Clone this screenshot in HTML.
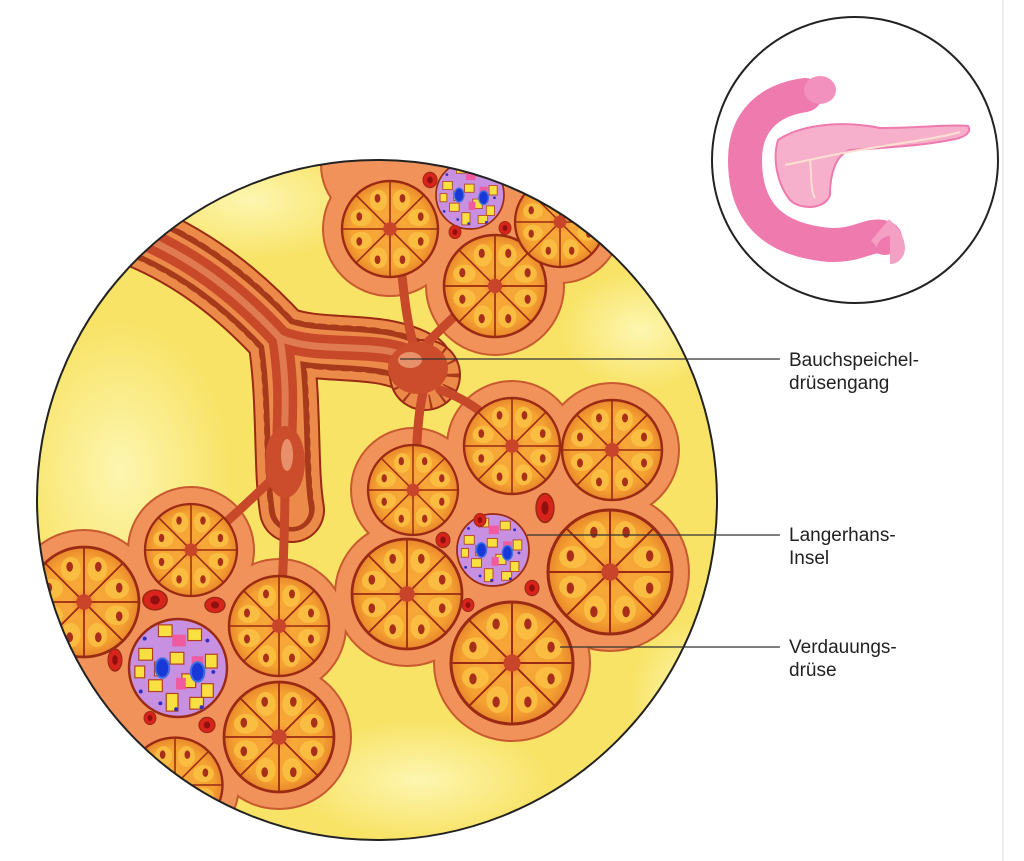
<!DOCTYPE html>
<html><head><meta charset="utf-8"><style>
html,body{margin:0;padding:0;background:#fff;width:1024px;height:861px;overflow:hidden}
svg{display:block}
text{font-family:"Liberation Sans","DejaVu Sans",sans-serif;font-size:19px;fill:#222}
</style></head><body>
<svg width="1024" height="861" viewBox="0 0 1024 861" xmlns="http://www.w3.org/2000/svg">
<defs>
<clipPath id="big"><circle cx="377" cy="500" r="340"/></clipPath>
<radialGradient id="acg" cx="50%" cy="50%" r="50%">
<stop offset="0" stop-color="#f07a30"/><stop offset="0.25" stop-color="#f6a838"/><stop offset="0.8" stop-color="#f5a232"/><stop offset="1" stop-color="#e8862c"/></radialGradient>
<radialGradient id="yl" cx="50%" cy="50%" r="50%"><stop offset="0" stop-color="#fdf6b0"/><stop offset="1" stop-color="#fdf6b0" stop-opacity="0"/></radialGradient>
<g id="ac">
<circle r="50" fill="url(#acg)" stroke="#9a2a14" stroke-width="2.5"/>
<g fill="#fbc445" opacity="0.8">
<ellipse cx="30" cy="12" rx="11" ry="9"/><ellipse cx="12" cy="30" rx="9" ry="11"/><ellipse cx="-12" cy="30" rx="9" ry="11"/><ellipse cx="-30" cy="12" rx="11" ry="9"/>
<ellipse cx="-30" cy="-12" rx="11" ry="9"/><ellipse cx="-12" cy="-30" rx="9" ry="11"/><ellipse cx="12" cy="-30" rx="9" ry="11"/><ellipse cx="30" cy="-12" rx="11" ry="9"/></g>
<g stroke="#9a2a14" stroke-width="1.6">
<line x1="6" y1="0" x2="50" y2="0"/><line x1="-6" y1="0" x2="-50" y2="0"/><line x1="0" y1="6" x2="0" y2="50"/><line x1="0" y1="-6" x2="0" y2="-50"/>
<line x1="4" y1="4" x2="35" y2="35"/><line x1="-4" y1="4" x2="-35" y2="35"/><line x1="4" y1="-4" x2="35" y2="-35"/><line x1="-4" y1="-4" x2="-35" y2="-35"/></g>
<g fill="#a8301a">
<ellipse cx="32" cy="13" rx="3" ry="4.5"/><ellipse cx="13" cy="32" rx="3" ry="4.5"/><ellipse cx="-13" cy="32" rx="3" ry="4.5"/><ellipse cx="-32" cy="13" rx="3" ry="4.5"/>
<ellipse cx="-32" cy="-13" rx="3" ry="4.5"/><ellipse cx="-13" cy="-32" rx="3" ry="4.5"/><ellipse cx="13" cy="-32" rx="3" ry="4.5"/><ellipse cx="32" cy="-13" rx="3" ry="4.5"/></g>
<circle r="7" fill="#c8452a"/>
</g>
<g id="isl">
<circle r="50" fill="#c890e0" stroke="#9a2a14" stroke-width="2.5"/>
<g fill="#f8e040" stroke="#b04020" stroke-width="1.2">
<rect x="-40" y="-20" width="14" height="12"/><rect x="-20" y="-44" width="14" height="12"/><rect x="10" y="-40" width="14" height="12"/><rect x="28" y="-14" width="12" height="14"/>
<rect x="-8" y="-16" width="14" height="12"/><rect x="-30" y="12" width="14" height="12"/><rect x="4" y="6" width="14" height="14"/><rect x="24" y="16" width="12" height="14"/>
<rect x="-12" y="26" width="12" height="18"/><rect x="-44" y="-2" width="10" height="12"/><rect x="12" y="30" width="14" height="12"/><rect x="-24" y="-6" width="12" height="14"/></g>
<g fill="#f05aa0"><rect x="-6" y="-34" width="14" height="12"/><rect x="14" y="-12" width="12" height="12"/><rect x="-2" y="10" width="10" height="12"/></g>
<g fill="#3030c0"><circle cx="-34" cy="-30" r="2"/><circle cx="30" cy="-28" r="2"/><circle cx="-38" cy="24" r="2"/><circle cx="36" cy="4" r="2"/><circle cx="-2" cy="42" r="2"/><circle cx="-18" cy="36" r="2"/><circle cx="24" cy="40" r="2"/></g>
<ellipse cx="-16" cy="0" rx="7" ry="10" fill="#1838d8" stroke="#4070e0" stroke-width="2"/>
<ellipse cx="20" cy="4" rx="7" ry="10" fill="#1838d8" stroke="#4070e0" stroke-width="2"/>
</g>
<g id="rbc"><ellipse rx="10" ry="11" fill="#d8241a" stroke="#9a2a14" stroke-width="1.5"/><ellipse rx="4" ry="5" fill="#901010"/></g>
</defs>

<line x1="1003" y1="0" x2="1003" y2="861" stroke="#eee" stroke-width="2"/>

<circle cx="377" cy="500" r="340" fill="#f8e366"/>
<g clip-path="url(#big)">
<ellipse cx="120" cy="470" rx="110" ry="150" fill="url(#yl)"/>
<ellipse cx="250" cy="200" rx="120" ry="60" fill="url(#yl)"/>
<ellipse cx="640" cy="330" rx="80" ry="60" fill="url(#yl)"/>
<ellipse cx="420" cy="780" rx="130" ry="60" fill="url(#yl)"/>
<ellipse cx="690" cy="700" rx="60" ry="80" fill="url(#yl)"/>

<!-- lobule outlines (circles) -->
<g fill="#c85a30">
<circle cx="390" cy="229" r="68"/><circle cx="495" cy="286" r="70"/><circle cx="560" cy="222" r="62"/><circle cx="470" cy="195" r="50"/><circle cx="470" cy="160" r="60"/><circle cx="380" cy="165" r="60"/>
<circle cx="413" cy="490" r="63"/><circle cx="512" cy="446" r="66"/><circle cx="612" cy="450" r="68"/><circle cx="493" cy="550" r="55"/><circle cx="407" cy="594" r="73"/><circle cx="610" cy="572" r="80"/><circle cx="512" cy="663" r="79"/>
<circle cx="84" cy="602" r="73"/><circle cx="191" cy="550" r="64"/><circle cx="279" cy="626" r="68"/><circle cx="178" cy="668" r="67"/><circle cx="279" cy="737" r="73"/><circle cx="175" cy="785" r="65"/><circle cx="55" cy="715" r="65"/>
</g>
<g fill="#f0925a">
<circle cx="390" cy="229" r="66"/><circle cx="495" cy="286" r="68"/><circle cx="560" cy="222" r="60"/><circle cx="470" cy="195" r="48"/><circle cx="470" cy="160" r="58"/><circle cx="380" cy="165" r="58"/>
<circle cx="413" cy="490" r="61"/><circle cx="512" cy="446" r="64"/><circle cx="612" cy="450" r="66"/><circle cx="493" cy="550" r="53"/><circle cx="407" cy="594" r="71"/><circle cx="610" cy="572" r="78"/><circle cx="512" cy="663" r="77"/>
<circle cx="84" cy="602" r="71"/><circle cx="191" cy="550" r="62"/><circle cx="279" cy="626" r="66"/><circle cx="178" cy="668" r="65"/><circle cx="279" cy="737" r="71"/><circle cx="175" cy="785" r="63"/><circle cx="55" cy="715" r="63"/>
<polygon points="400,170 560,170 520,290 430,260"/>
<polygon points="420,480 610,450 610,570 510,660 410,590"/>
<polygon points="84,602 191,550 279,626 279,737 175,785 55,715"/>
</g>

<!-- duct epithelium band -->
<g fill="none" stroke-linecap="round" stroke-linejoin="round">
<path d="M110 225 C190 250 245 300 280 338 C320 355 380 340 420 365 M280 338 C290 400 285 470 292 510" stroke="#9a2a14" stroke-width="66"/>
<path d="M110 225 C190 250 245 300 280 338 C320 355 380 340 420 365 M280 338 C290 400 285 470 292 510" stroke="#ec8a4a" stroke-width="62"/>
<path d="M110 225 C190 250 245 300 280 338 C320 355 380 340 420 365 M280 338 C290 400 285 470 292 510" stroke="#a83a1c" stroke-width="46" stroke-dasharray="2 11"/>
<path d="M110 225 C190 250 245 300 280 338 C320 355 380 340 420 365 M280 338 C290 400 285 470 292 510" stroke="#ec8a4a" stroke-width="34"/>
</g>
<circle cx="425" cy="375" r="36" fill="#9a2a14"/>
<circle cx="425" cy="375" r="34" fill="#ec8a4a"/>
<circle cx="425" cy="375" r="27" fill="none" stroke="#a83a1c" stroke-width="14" stroke-dasharray="2 10"/>

<!-- small ducts -->
<g fill="none" stroke="#c8482a" stroke-width="9" stroke-linecap="round">
<path d="M415 350 C400 300 405 260 392 229"/>
<path d="M425 345 C450 320 470 300 495 286"/>
<path d="M425 385 C415 420 418 460 413 490"/>
<path d="M440 390 C470 400 495 420 512 446"/>
<path d="M282 470 C250 500 220 530 191 550"/>
<path d="M285 480 C285 540 282 590 280 626"/>
</g>
<g fill="none" stroke-linecap="round">
<path d="M110 225 C190 250 245 300 280 338 C320 355 380 340 415 360 M280 338 C290 400 282 430 285 465" stroke="#c8482a" stroke-width="24"/>
<path d="M110 225 C190 250 245 300 280 338 C320 355 380 340 415 360 M280 338 C290 400 282 430 285 465" stroke="#e07a50" stroke-width="7"/>
</g>
<ellipse cx="418" cy="368" rx="30" ry="26" fill="#cc4d2c"/>
<ellipse cx="410" cy="360" rx="12" ry="8" fill="#e8906a"/>
<ellipse cx="285" cy="462" rx="20" ry="36" fill="#cc4d2c"/>
<ellipse cx="287" cy="455" rx="6" ry="16" fill="#e8906a"/>

<use href="#ac" transform="translate(390,229) scale(0.96)"/>
<use href="#ac" transform="translate(495,286) scale(1.02)"/>
<use href="#ac" transform="translate(560,222) scale(0.9)"/>
<use href="#isl" transform="translate(470,195) scale(0.68)"/>
<use href="#ac" transform="translate(413,490) scale(0.9)"/>
<use href="#ac" transform="translate(512,446) scale(0.96)"/>
<use href="#ac" transform="translate(612,450) scale(1.0)"/>
<use href="#isl" transform="translate(493,550) scale(0.72)"/>
<use href="#ac" transform="translate(407,594) scale(1.1)"/>
<use href="#ac" transform="translate(610,572) scale(1.24)"/>
<use href="#ac" transform="translate(512,663) scale(1.22)"/>
<use href="#ac" transform="translate(84,602) scale(1.1)"/>
<use href="#ac" transform="translate(191,550) scale(0.92)"/>
<use href="#ac" transform="translate(279,626) scale(1.0)"/>
<use href="#isl" transform="translate(178,668) scale(0.98)"/>
<use href="#ac" transform="translate(279,737) scale(1.1)"/>
<use href="#ac" transform="translate(175,785) scale(0.95)"/>
<use href="#ac" transform="translate(55,715) scale(0.9)"/>

<use href="#rbc" transform="translate(430,180) scale(0.7)"/>
<use href="#rbc" transform="translate(455,232) scale(0.6)"/>
<use href="#rbc" transform="translate(505,228) scale(0.6)"/>
<use href="#rbc" transform="translate(545,508) scale(0.9,1.3)"/>
<use href="#rbc" transform="translate(443,540) scale(0.7)"/>
<use href="#rbc" transform="translate(468,605) scale(0.6)"/>
<use href="#rbc" transform="translate(532,588) scale(0.7)"/>
<use href="#rbc" transform="translate(480,520) scale(0.6)"/>
<use href="#rbc" transform="translate(155,600) scale(1.2,0.9)"/>
<use href="#rbc" transform="translate(215,605) scale(1.0,0.7)"/>
<use href="#rbc" transform="translate(115,660) scale(0.7,1.0)"/>
<use href="#rbc" transform="translate(150,718) scale(0.6)"/>
<use href="#rbc" transform="translate(207,725) scale(0.8,0.7)"/>
</g>
<circle cx="377" cy="500" r="340" fill="none" stroke="#222" stroke-width="2"/>

<circle cx="855" cy="160" r="143" fill="#fff" stroke="#222" stroke-width="2"/>
<g>
<path d="M805 95 C770 100 745 120 745 160 C745 210 770 240 830 245 C860 246 870 232 885 238" fill="none" stroke="#ee7aae" stroke-width="34" stroke-linecap="round"/>
<path d="M880 230 C892 240 892 250 890 250" fill="none" stroke="#f3a0c4" stroke-width="28"/>
<ellipse cx="820" cy="90" rx="16" ry="14" fill="#f290be"/>
<path d="M778 140 C800 125 840 120 880 128 C920 128 950 124 968 126 C972 132 965 138 950 140 C920 146 880 148 850 150 C835 155 830 175 830 195 C825 210 800 210 790 200 C778 185 772 160 778 140 Z" fill="#f7b0cc" stroke="#ee7aae" stroke-width="2"/>
<path d="M785 165 C810 160 830 155 860 150 C900 143 940 138 960 132 M810 160 C812 175 810 190 815 198" fill="none" stroke="#fde0d0" stroke-width="2"/>
</g>

<g stroke="#333" stroke-width="1.2">
<line x1="400" y1="359" x2="780" y2="359"/>
<line x1="527" y1="535" x2="780" y2="535"/>
<line x1="560" y1="647" x2="780" y2="647"/>
</g>
<text x="789" y="366">Bauchspeichel-</text>
<text x="789" y="389">drüsengang</text>
<text x="789" y="541">Langerhans-</text>
<text x="789" y="564">Insel</text>
<text x="789" y="653">Verdauungs-</text>
<text x="789" y="676">drüse</text>
</svg>
</body></html>
